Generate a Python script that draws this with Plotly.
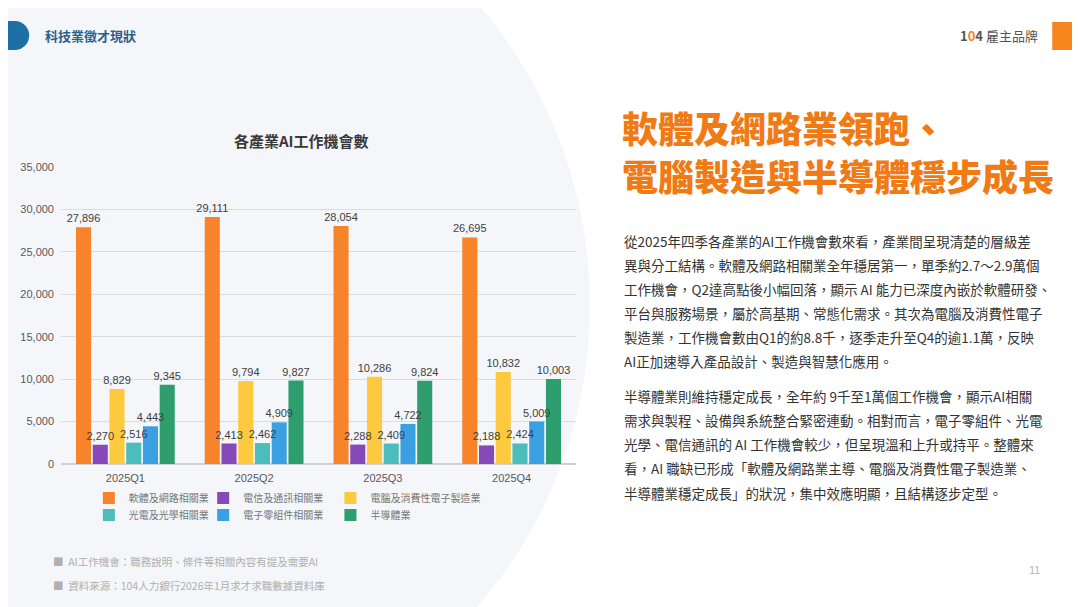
import plotly.graph_objects as go

# data
quarters = ["2025Q1", "2025Q2", "2025Q3", "2025Q4"]
software = [27896, 29111, 28054, 26695]
telecom = [2270, 2413, 2288, 2188]
computer = [8829, 9794, 10286, 10832]
optics = [2516, 2462, 2409, 2424]
components = [4443, 4909, 4722, 5009]
semicon = [9345, 9827, 9824, 10003]

series_names = ["軟體及網路相關業", "電信及通訊相關業", "電腦及消費性電子製造業",
                "光電及光學相關業", "電子零組件相關業", "半導體業"]
series_values = [software, telecom, computer, optics, components, semicon]
series_colors = ["#F7832A", "#8549B8", "#FDC93E", "#4CBDBB", "#3BA0E2", "#2E9E6E"]

headline = ["軟體及網路業領跑、", "電腦製造與半導體穩步成長"]
body_lines = [
    "從2025年四季各產業的AI工作機會數來看，產業間呈現清楚的層級差",
    "異與分工結構。軟體及網路相關業全年穩居第一，單季約2.7～2.9萬個",
    "工作機會，Q2達高點後小幅回落，顯示 AI 能力已深度內嵌於軟體研發、",
    "平台與服務場景，屬於高基期、常態化需求。其次為電腦及消費性電子",
    "製造業，工作機會數由Q1的約8.8千，逐季走升至Q4的逾1.1萬，反映",
    "AI正加速導入產品設計、製造與智慧化應用。",
    "半導體業則維持穩定成長，全年約 9千至1萬個工作機會，顯示AI相關",
    "需求與製程、設備與系統整合緊密連動。相對而言，電子零組件、光電",
    "光學、電信通訊的 AI 工作機會較少，但呈現溫和上升或持平。整體來",
    "看，AI 職缺已形成「軟體及網路業主導、電腦及消費性電子製造業、",
    "半導體業穩定成長」的狀況，集中效應明顯，且結構逐步定型。",
]
notes = ["AI工作機會：職務說明、條件等相關內容有提及需要AI",
         "資料來源：104人力銀行2026年1月求才求職數據資料庫"]

# the page body has an 8px margin, so the figure is 8px smaller and everything
# is measured in screen pixels; plot area on screen is x 58..576, y 167..464
OFF = 8
W, H = 1080 - OFF, 607 - OFF
X0, X1, Y0, Y1 = 58, 576, 167, 464


def px(x):
    return (x - X0) / (X1 - X0)


def py(y):
    return (Y1 - y) / (Y1 - Y0)


CJK = "Noto Sans CJK TC"
LAT = "Liberation Sans, Arial, sans-serif"

fig = go.Figure()
for i, (name, vals, col) in enumerate(zip(series_names, series_values, series_colors)):
    fig.add_trace(go.Bar(
        x=quarters, y=vals, name=name, offsetgroup=str(i),
        marker=dict(color=col, line=dict(width=0)),
        legend="legend" if i == 0 else "legend%d" % (i + 1),
        hoverinfo="skip",
    ))
# value labels as see-through copies drawn last, so no bar covers them
for i, vals in enumerate(series_values):
    fig.add_trace(go.Bar(
        x=quarters, y=vals, offsetgroup=str(i), showlegend=False,
        marker=dict(color="rgba(0,0,0,0)", line=dict(width=0)),
        texttemplate="%{y:,}", textposition="outside",
        textfont=dict(family=LAT, size=11, color="#404040"),
        constraintext="none", cliponaxis=False,
    ))

shapes = [
    # big pale circle behind the chart
    dict(type="circle", xref="paper", yref="paper", layer="below",
         x0=px(-310), x1=px(590), y0=py(760), y1=py(-150),
         fillcolor="#F4F6F9", line=dict(width=0)),
    # header pill
    dict(type="rect", xref="paper", yref="paper", layer="below",
         x0=px(-10), x1=px(11), y0=py(50), y1=py(21),
         fillcolor="#1D6FA5", line=dict(width=0)),
    dict(type="circle", xref="paper", yref="paper", layer="below",
         x0=px(-3), x1=px(26), y0=py(50), y1=py(21),
         fillcolor="#1D6FA5", line=dict(width=0)),
    # orange tab top right
    dict(type="rect", xref="paper", yref="paper", layer="below",
         x0=px(1055), x1=px(1085), y0=py(50), y1=py(22),
         fillcolor="#F7861E", line=dict(width=0)),
]

ann = []


def text(x, y, s, size, color, family=CJK, anchor="left", weight=None):
    f = dict(family=family, size=size, color=color)
    if weight:
        f["weight"] = weight
    ann.append(dict(x=px(x), y=py(y), xref="paper", yref="paper", text=s,
                    showarrow=False, xanchor=anchor, yanchor="middle", font=f))


text(40, 36, "<b>科技業徵才現狀</b>", 13, "#2B5F8C")
text(1043, 36, "<b><span style='color:#555'>1</span><span style='color:#F7861E'>0</span>"
     "<span style='color:#555'>4</span></b> 雇主品牌", 13, "#555555", anchor="right")
text(300, 140, "<b>各產業AI工作機會數</b>", 15, "#3A3A3A", anchor="center")

text(620, 127, headline[0], 36, "#F07A14", weight=900)
text(620, 175, headline[1], 36, "#F07A14", weight=900)

body_y = [241, 265, 289, 313, 337, 361, 396, 420, 444, 468, 493]
for s, y in zip(body_lines, body_y):
    text(622, y, s, 13.5, "#333333")

for s, y in zip(notes, [561, 585]):
    text(48, y, "■  " + s, 10.5, "#B0B0B0")
text(1030, 570, "11", 11, "#B5B5B5", family=LAT)

# one legend per entry, placed on a 3 x 2 grid (text starts ~40px right of x)
legend_x = [86, 201, 329, 86, 201, 329]
legend_y = [498, 498, 498, 515, 515, 515]
legends = {}
for i in range(6):
    key = "legend" if i == 0 else "legend%d" % (i + 1)
    legends[key] = dict(orientation="h", xref="paper", yref="paper",
                        x=px(legend_x[i]), y=py(legend_y[i]),
                        xanchor="left", yanchor="middle",
                        bgcolor="rgba(0,0,0,0)", itemwidth=30,
                        font=dict(family=CJK, size=10, color="#777777"))

fig.update_layout(
    width=W, height=H,
    margin=dict(l=X0 - OFF, r=W - (X1 - OFF), t=Y0 - OFF, b=H - (Y1 - OFF), pad=0),
    paper_bgcolor="white", plot_bgcolor="rgba(0,0,0,0)",
    barmode="group", bargap=0.22, bargroupgap=0.1,
    showlegend=True,
    shapes=shapes, annotations=ann,
    font=dict(family=LAT),
    **legends,
)
fig.update_yaxes(range=[0, 35000], dtick=5000, tickformat=",",
                 gridcolor="#DCDCDC", gridwidth=1, zeroline=True,
                 zerolinecolor="#D0D0D0", showline=False, ticks="",
                 ticklabelstandoff=6,
                 tickfont=dict(family=LAT, size=11, color="#595959"))
fig.update_xaxes(showline=False, ticks="", showgrid=False,
                 ticklabelstandoff=6,
                 tickfont=dict(family=LAT, size=11, color="#595959"))

fig.write_html("out.html")
